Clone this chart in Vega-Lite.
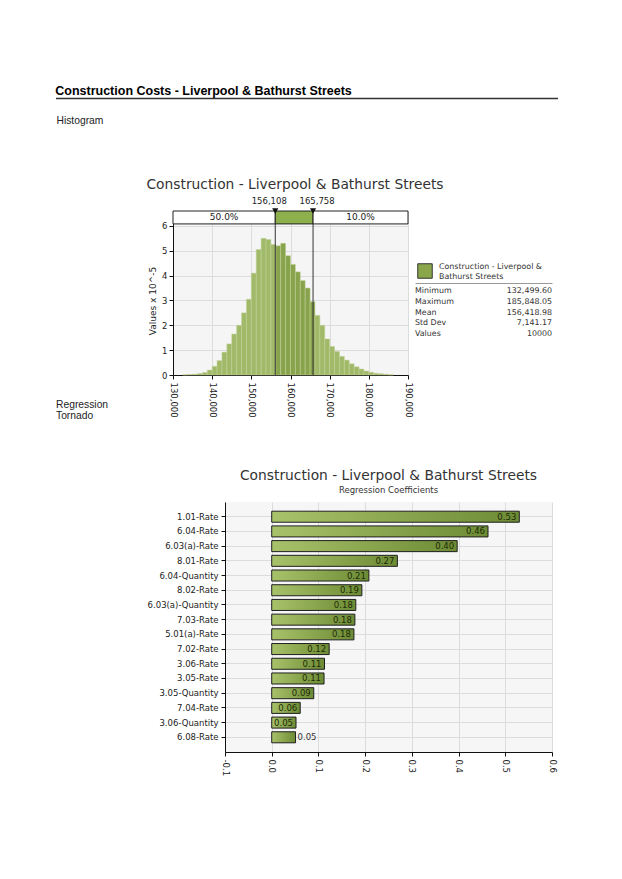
{
  "$schema": "https://vega.github.io/schema/vega-lite/v6.json",
  "background": "white",
  "padding": {"left": 55, "top": 85, "right": 5, "bottom": 5},
  "config": {
    "view": {"stroke": null},
    "font": "DejaVu Sans",
    "axis": {"labelFont": "DejaVu Sans", "labelFontSize": 8.5, "labelColor": "#222", "titleFont": "DejaVu Sans", "titleFontSize": 9, "titleFontWeight": "normal", "titleColor": "#222", "domainColor": "#111", "tickColor": "#111", "tickSize": 4, "gridColor": "#dcdcdc", "gridWidth": 1, "labelFlush": false, "labelOverlap": false},
    "title": {"font": "DejaVu Sans", "fontWeight": "normal", "color": "#333"}
  },
  "spacing": 47,
  "vconcat": [
    {
      "spacing": 0,
      "hconcat": [
        {
          "width": 502,
          "height": 1,
          "title": {"text": "Construction Costs - Liverpool & Bathurst Streets", "anchor": "start", "font": "Liberation Sans", "fontSize": 12.5, "fontWeight": "bold", "color": "#000", "offset": 0},
          "data": {"values": [{"start": 0, "end": 1}]},
          "mark": {"type": "rule", "color": "#333", "strokeWidth": 1.5},
          "encoding": {
            "x": {"field": "start", "type": "quantitative", "scale": {"domain": [0, 1], "nice": false}, "axis": {"title": "Histogram", "domain": false, "ticks": false, "labels": false, "grid": false, "titleAnchor": "start", "titleAlign": "left", "titleFont": "Liberation Sans", "titleFontSize": 10.3, "titleColor": "#222", "titlePadding": 16}},
            "x2": {"field": "end"}
          }
        },
        {
          "width": 1,
          "height": 33,
          "data": {"values": [{}]},
          "mark": {"type": "text", "text": ""},
          "encoding": {}
        }
      ]
    },
    {
      "title": {"text": "Construction - Liverpool & Bathurst Streets", "anchor": "middle", "fontSize": 13.8, "offset": 5, "dx": -9},
      "spacing": 3,
      "resolve": {"scale": {"color": "independent", "fill": "independent"}, "legend": {"color": "independent", "fill": "independent"}},
      "hconcat": [
        {
          "width": 89,
          "height": 196.5,
          "data": {"values": [{"label": "Regression\nTornado"}]},
          "mark": {"type": "text", "align": "left", "baseline": "alphabetic", "font": "Liberation Sans", "fontSize": 10.3, "color": "#222", "lineBreak": "\n", "lineHeight": 11},
          "encoding": {
            "text": {"field": "label"},
            "x": {"datum": 0, "type": "quantitative", "scale": {"domain": [0, 1]}, "axis": null},
            "y": {"datum": 0, "type": "quantitative", "scale": {"domain": [0, 1]}, "axis": null}
          }
        },
        {
          "width": 235,
          "height": 164,
          "view": {"fill": "#f5f5f5"},
          "layer": [
            {
              "data": {"values": [
                {"bin_start": 132500, "bin_end": 133750, "density": 0.01},
                {"bin_start": 133750, "bin_end": 135000, "density": 0.02},
                {"bin_start": 135000, "bin_end": 136250, "density": 0.03},
                {"bin_start": 136250, "bin_end": 137500, "density": 0.06},
                {"bin_start": 137500, "bin_end": 138750, "density": 0.1},
                {"bin_start": 138750, "bin_end": 140000, "density": 0.2},
                {"bin_start": 140000, "bin_end": 141250, "density": 0.35},
                {"bin_start": 141250, "bin_end": 142500, "density": 0.58},
                {"bin_start": 142500, "bin_end": 143750, "density": 0.92},
                {"bin_start": 143750, "bin_end": 145000, "density": 1.25},
                {"bin_start": 145000, "bin_end": 146250, "density": 1.65},
                {"bin_start": 146250, "bin_end": 147500, "density": 2.0},
                {"bin_start": 147500, "bin_end": 148750, "density": 2.5},
                {"bin_start": 148750, "bin_end": 150000, "density": 3.05},
                {"bin_start": 150000, "bin_end": 151250, "density": 4.1},
                {"bin_start": 151250, "bin_end": 152500, "density": 5.05},
                {"bin_start": 152500, "bin_end": 153750, "density": 5.5},
                {"bin_start": 153750, "bin_end": 155000, "density": 5.45},
                {"bin_start": 155000, "bin_end": 156250, "density": 5.25},
                {"bin_start": 156250, "bin_end": 157500, "density": 5.2},
                {"bin_start": 157500, "bin_end": 158750, "density": 5.3},
                {"bin_start": 158750, "bin_end": 160000, "density": 4.8},
                {"bin_start": 160000, "bin_end": 161250, "density": 4.45},
                {"bin_start": 161250, "bin_end": 162500, "density": 4.15},
                {"bin_start": 162500, "bin_end": 163750, "density": 3.8},
                {"bin_start": 163750, "bin_end": 165000, "density": 3.5},
                {"bin_start": 165000, "bin_end": 166250, "density": 2.95},
                {"bin_start": 166250, "bin_end": 167500, "density": 2.4},
                {"bin_start": 167500, "bin_end": 168750, "density": 2.0},
                {"bin_start": 168750, "bin_end": 170000, "density": 1.45},
                {"bin_start": 170000, "bin_end": 171250, "density": 1.15},
                {"bin_start": 171250, "bin_end": 172500, "density": 0.95},
                {"bin_start": 172500, "bin_end": 173750, "density": 0.75},
                {"bin_start": 173750, "bin_end": 175000, "density": 0.6},
                {"bin_start": 175000, "bin_end": 176250, "density": 0.45},
                {"bin_start": 176250, "bin_end": 177500, "density": 0.33},
                {"bin_start": 177500, "bin_end": 178750, "density": 0.24},
                {"bin_start": 178750, "bin_end": 180000, "density": 0.16},
                {"bin_start": 180000, "bin_end": 181250, "density": 0.11},
                {"bin_start": 181250, "bin_end": 182500, "density": 0.07},
                {"bin_start": 182500, "bin_end": 183750, "density": 0.05},
                {"bin_start": 183750, "bin_end": 185000, "density": 0.03},
                {"bin_start": 185000, "bin_end": 186250, "density": 0.01}
              ]},
              "transform": [{"calculate": "(datum.bin_start + datum.bin_end) / 2 >= 156108 && (datum.bin_start + datum.bin_end) / 2 <= 165758 ? 'in' : 'out'", "as": "part"}],
              "mark": {"type": "rect", "stroke": "#c4d39b", "strokeWidth": 0.5},
              "encoding": {
                "x": {"field": "bin_start", "type": "quantitative", "scale": {"domain": [130000, 190000], "nice": false, "zero": false}, "axis": {"title": null, "values": [130000, 140000, 150000, 160000, 170000, 180000, 190000], "format": ",d", "labelAngle": 90, "grid": true, "labelPadding": 3}},
                "x2": {"field": "bin_end"},
                "y": {"field": "density", "type": "quantitative", "scale": {"domain": [0, 6.6], "nice": false}, "axis": {"title": "Values x 10^-5", "values": [0, 1, 2, 3, 4, 5, 6], "grid": true, "labelPadding": 2, "titlePadding": 4, "titleY": 89.5}},
                "y2": {"datum": 0},
                "fill": {"field": "part", "type": "nominal", "scale": {"domain": ["out", "in", "blank", "sel"], "range": ["#a1ba69", "#87a34c", "#ffffff", "#8db04c"]}, "legend": null}
              }
            },
            {
              "data": {"values": [{"v": 156108}, {"v": 165758}]},
              "mark": {"type": "rule", "color": "#333", "strokeWidth": 1},
              "encoding": {"x": {"field": "v", "type": "quantitative", "scale": {"domain": [130000, 190000], "nice": false, "zero": false}, "axis": {"title": null, "values": [130000, 140000, 150000, 160000, 170000, 180000, 190000], "format": ",d", "labelAngle": 90, "grid": true, "labelPadding": 3}}}
            },
            {
              "data": {"values": [
                {"lo": 130000, "hi": 156108, "part": "blank", "share": 50.0},
                {"lo": 156108, "hi": 165758, "part": "sel", "share": 40.0},
                {"lo": 165758, "hi": 190000, "part": "blank", "share": 10.0}
              ]},
              "layer": [
                {
                  "mark": {"type": "rect", "stroke": "#222", "strokeWidth": 1},
                  "encoding": {
                    "x": {"field": "lo", "type": "quantitative", "scale": {"domain": [130000, 190000], "nice": false, "zero": false}, "axis": {"title": null, "values": [130000, 140000, 150000, 160000, 170000, 180000, 190000], "format": ",d", "labelAngle": 90, "grid": true, "labelPadding": 3}},
                    "x2": {"field": "hi"},
                    "y": {"datum": 6.08, "type": "quantitative", "scale": {"domain": [0, 6.6], "nice": false}, "axis": {"title": "Values x 10^-5", "values": [0, 1, 2, 3, 4, 5, 6], "grid": true, "labelPadding": 2, "titlePadding": 4, "titleY": 89.5}},
                    "y2": {"datum": 6.6},
                    "fill": {"field": "part", "type": "nominal", "legend": null}
                  }
                },
                {
                  "transform": [
                    {"filter": "datum.part == 'blank'"},
                    {"calculate": "(datum.lo + datum.hi) / 2", "as": "mid"},
                    {"calculate": "format(datum.share, '.1f') + '%'", "as": "label"}
                  ],
                  "mark": {"type": "text", "fontSize": 9, "color": "#222", "baseline": "middle"},
                  "encoding": {
                    "x": {"field": "mid", "type": "quantitative", "scale": {"domain": [130000, 190000], "nice": false, "zero": false}, "axis": {"title": null, "values": [130000, 140000, 150000, 160000, 170000, 180000, 190000], "format": ",d", "labelAngle": 90, "grid": true, "labelPadding": 3}},
                    "y": {"datum": 6.34, "type": "quantitative", "scale": {"domain": [0, 6.6], "nice": false}, "axis": {"title": "Values x 10^-5", "values": [0, 1, 2, 3, 4, 5, 6], "grid": true, "labelPadding": 2, "titlePadding": 4, "titleY": 89.5}},
                    "text": {"field": "label"}
                  }
                }
              ]
            },
            {
              "data": {"values": [{"v": 156108}, {"v": 165758}]},
              "encoding": {
                "x": {"field": "v", "type": "quantitative", "scale": {"domain": [130000, 190000], "nice": false, "zero": false}, "axis": {"title": null, "values": [130000, 140000, 150000, 160000, 170000, 180000, 190000], "format": ",d", "labelAngle": 90, "grid": true, "labelPadding": 3}},
                "y": {"datum": 6.6, "type": "quantitative", "scale": {"domain": [0, 6.6], "nice": false}, "axis": {"title": "Values x 10^-5", "values": [0, 1, 2, 3, 4, 5, 6], "grid": true, "labelPadding": 2, "titlePadding": 4, "titleY": 89.5}}
              },
              "layer": [
                {
                  "mark": {"type": "point", "shape": "triangle-down", "filled": true, "color": "#111", "size": 38, "opacity": 1}
                },
                {
                  "transform": [{"filter": "datum.v == 156108"}],
                  "mark": {"type": "text", "baseline": "bottom", "dy": -5, "dx": -6, "fontSize": 8.5, "color": "#222"},
                  "encoding": {"text": {"field": "v", "type": "quantitative", "format": ",d"}}
                },
                {
                  "transform": [{"filter": "datum.v == 165758"}],
                  "mark": {"type": "text", "baseline": "bottom", "dy": -5, "dx": 4, "fontSize": 8.5, "color": "#222"},
                  "encoding": {"text": {"field": "v", "type": "quantitative", "format": ",d"}}
                }
              ]
            }
          ]
        },
        {
          "spacing": 0,
          "resolve": {"scale": {"color": "independent"}, "legend": {"color": "independent"}},
          "vconcat": [
            {
              "width": 137,
              "height": 72,
              "data": {"values": [{"series": "Construction - Liverpool & Bathurst Streets"}]},
              "mark": {"type": "point", "shape": "square", "filled": true, "size": 0, "opacity": 1},
              "encoding": {
                "color": {"field": "series", "type": "nominal", "scale": {"range": ["#8aa64a"]}, "legend": {"orient": "bottom-left", "offset": 2, "padding": 0, "direction": "vertical", "title": null, "symbolType": "square", "symbolSize": 210, "symbolStrokeColor": "#333", "symbolStrokeWidth": 1, "symbolFillColor": "#8aa64a", "labelFont": "DejaVu Sans", "labelFontSize": 7.9, "labelColor": "#333", "labelOffset": 6, "labelLimit": 0, "labelBaseline": "bottom", "labelExpr": "['Construction - Liverpool &', 'Bathurst Streets']"}}
              }
            },
            {
              "width": 137,
              "height": 59,
              "data": {"values": [
                {"stat": "Minimum", "value": 132499.60},
                {"stat": "Maximum", "value": 185848.05},
                {"stat": "Mean", "value": 156418.98},
                {"stat": "Std Dev", "value": 7141.17},
                {"stat": "Values", "value": 10000}
              ]},
              "layer": [
                {
                  "mark": {"type": "text", "align": "left", "baseline": "middle", "fontSize": 7.9, "color": "#333"},
                  "encoding": {
                    "x": {"datum": 0, "type": "quantitative", "scale": {"domain": [0, 1], "nice": false, "zero": false}, "axis": {"orient": "top", "domain": true, "domainColor": "#9a9a9a", "ticks": false, "labels": false, "grid": false, "title": null}},
                    "y": {"field": "stat", "type": "nominal", "sort": null, "scale": {"type": "point", "padding": 0.744}, "axis": null},
                    "text": {"field": "stat"}
                  }
                },
                {
                  "transform": [{"calculate": "datum.stat == 'Values' ? format(datum.value, 'd') : format(datum.value, ',.2f')", "as": "shown"}],
                  "mark": {"type": "text", "align": "right", "baseline": "middle", "fontSize": 7.9, "color": "#333"},
                  "encoding": {
                    "x": {"datum": 1, "type": "quantitative"},
                    "y": {"field": "stat", "type": "nominal", "sort": null},
                    "text": {"field": "shown"}
                  }
                }
              ]
            }
          ]
        }
      ]
    },
    {
      "spacing": 20,
      "hconcat": [
        {
          "width": 71,
          "height": 1,
          "data": {"values": [{}]},
          "mark": {"type": "text", "text": ""},
          "encoding": {}
        },
        {
          "width": 327,
          "height": 250,
          "view": {"fill": "#f6f6f6"},
          "title": {"text": "Construction - Liverpool & Bathurst Streets", "subtitle": "Regression Coefficients", "anchor": "middle", "fontSize": 13.8, "subtitleFont": "DejaVu Sans", "subtitleFontSize": 8.5, "subtitleColor": "#333", "subtitlePadding": 3, "offset": 8},
          "data": {"values": [
            {"factor": "1.01-Rate", "coef": 0.53},
            {"factor": "6.04-Rate", "coef": 0.463},
            {"factor": "6.03(a)-Rate", "coef": 0.397},
            {"factor": "8.01-Rate", "coef": 0.269},
            {"factor": "6.04-Quantity", "coef": 0.208},
            {"factor": "8.02-Rate", "coef": 0.193},
            {"factor": "6.03(a)-Quantity", "coef": 0.18},
            {"factor": "7.03-Rate", "coef": 0.178},
            {"factor": "5.01(a)-Rate", "coef": 0.176},
            {"factor": "7.02-Rate", "coef": 0.123},
            {"factor": "3.06-Rate", "coef": 0.113},
            {"factor": "3.05-Rate", "coef": 0.112},
            {"factor": "3.05-Quantity", "coef": 0.09},
            {"factor": "7.04-Rate", "coef": 0.061},
            {"factor": "3.06-Quantity", "coef": 0.052},
            {"factor": "6.08-Rate", "coef": 0.051}
          ]},
          "encoding": {
            "y": {"field": "factor", "type": "nominal", "sort": null, "scale": {"paddingInner": 0.25, "paddingOuter": 0.625}, "axis": {"title": null, "grid": true, "labelPadding": 3}},
            "x": {"field": "coef", "type": "quantitative", "scale": {"domain": [-0.1, 0.6], "nice": false, "zero": false}, "axis": {"title": null, "values": [-0.1, 0, 0.1, 0.2, 0.3, 0.4, 0.5, 0.6], "labelExpr": "datum.value < 0 ? '-' + format(-datum.value, '.1f') : format(datum.value, '.1f')", "labelAngle": 90, "grid": true, "labelPadding": 3}}
          },
          "layer": [
            {
              "mark": {"type": "bar", "fill": {"gradient": "linear", "x1": 0, "x2": 1, "y1": 0, "y2": 0, "stops": [{"offset": 0, "color": "#a8c26a"}, {"offset": 1, "color": "#6d8b35"}]}, "stroke": "#1f1f1f", "strokeWidth": 1},
              "encoding": {"x2": {"datum": 0}}
            },
            {
              "transform": [{"filter": "datum.factor != '6.08-Rate'"}],
              "mark": {"type": "text", "align": "right", "baseline": "middle", "dx": -3, "fontSize": 8.5, "color": "#1c2a05"},
              "encoding": {"text": {"field": "coef", "format": ".2f"}}
            },
            {
              "transform": [{"filter": "datum.factor == '6.08-Rate'"}],
              "mark": {"type": "text", "align": "left", "baseline": "middle", "dx": 2, "fontSize": 8.5, "color": "#333"},
              "encoding": {"text": {"field": "coef", "format": ".2f"}}
            }
          ]
        }
      ]
    }
  ]
}
